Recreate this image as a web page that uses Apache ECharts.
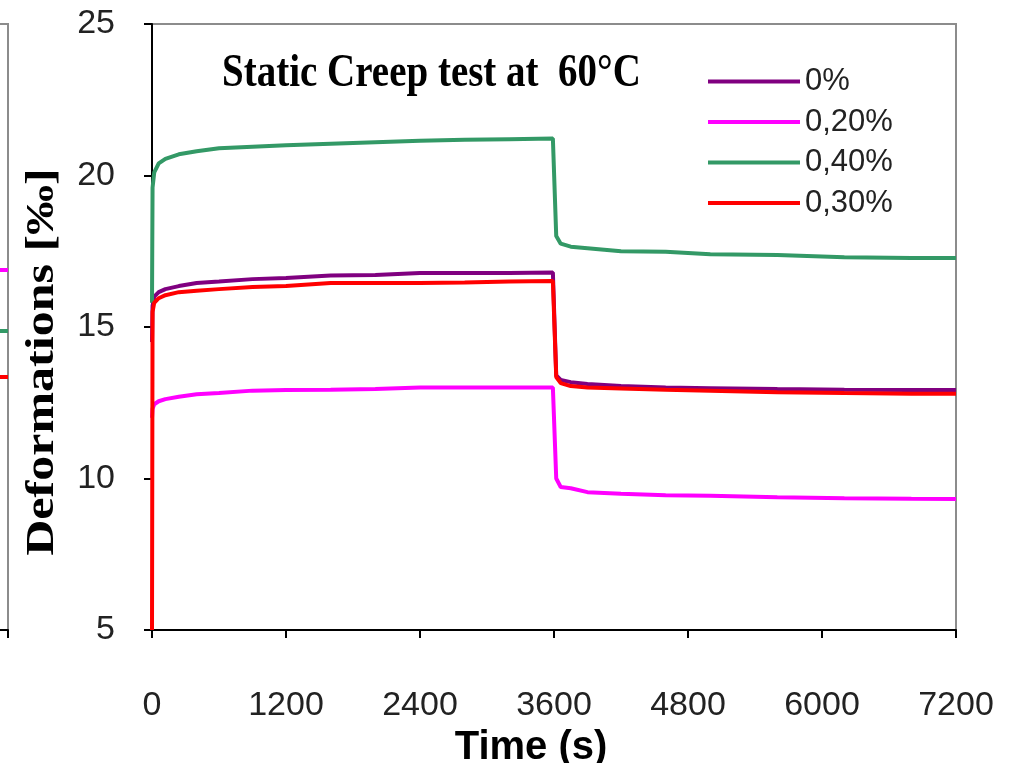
<!DOCTYPE html>
<html><head><meta charset="utf-8">
<script src="https://cdn.jsdelivr.net/npm/echarts@6/dist/echarts.min.js"></script>
<style>html,body{margin:0;padding:0;background:#fff}#c{width:1012px;height:763px}</style>
</head><body><div id="c"></div>
<script>
// ---- data ----
const seriesNames = ['0%', '0,20%', '0,40%', '0,30%'];
const seriesColors = ['#800080', '#FF00FF', '#339966', '#FF0000'];
const time = [0, 5, 20, 60, 120, 240, 400, 600, 900, 1200, 1600, 2000, 2400, 2800, 3200, 3590, 3620, 3660, 3750, 3900, 4200, 4600, 5000, 5600, 6200, 6800, 7200];
const def0   = [14.5, 15.7, 16.0, 16.15, 16.25, 16.35, 16.45, 16.5, 16.58, 16.62, 16.7, 16.72, 16.78, 16.78, 16.78, 16.8, 13.4, 13.25, 13.18, 13.12, 13.05, 13.0, 12.98, 12.95, 12.93, 12.92, 12.92];
const def020 = [12.0, 12.3, 12.45, 12.55, 12.62, 12.7, 12.78, 12.82, 12.9, 12.92, 12.93, 12.95, 13.0, 13.0, 13.0, 13.0, 10.0, 9.72, 9.68, 9.55, 9.5, 9.45, 9.43, 9.38, 9.35, 9.33, 9.32];
const def040 = [15.8, 19.6, 20.1, 20.4, 20.55, 20.7, 20.8, 20.9, 20.95, 21.0, 21.05, 21.1, 21.15, 21.18, 21.2, 21.22, 18.0, 17.75, 17.65, 17.6, 17.5, 17.48, 17.4, 17.38, 17.3, 17.28, 17.28];
const def030 = [5.0, 15.5, 15.8, 15.95, 16.05, 16.15, 16.2, 16.25, 16.32, 16.35, 16.45, 16.45, 16.45, 16.47, 16.5, 16.52, 13.35, 13.15, 13.05, 13.0, 12.97, 12.93, 12.9, 12.85, 12.82, 12.8, 12.8];
const xMin = 0, xMax = 7200, xStep = 1200;
const yMin = 5, yMax = 25, yStep = 5;
const titleText = 'Static Creep test at  60°C';
const yName = 'Deformations [‰]';
const xName = 'Time (s)';
// remnant of the neighbouring (cropped) chart on the left edge
const remnantTime = [6400, 7200];
const remnant020 = [16.88, 16.88];
const remnant040 = [14.87, 14.87];
const remnant030 = [13.35, 13.35];

const allValues = [def0, def020, def040, def030];
const pairs = (xs, ys) => xs.map((x, i) => [x, ys[i]]);

const chart = echarts.init(document.getElementById('c'), null, {renderer: 'canvas'});
const sans = '"Liberation Sans", Arial, sans-serif';
const labelFont = {fontFamily: sans, fontSize: 34, color: '#222', formatter: v => String(v)};

const mainSeries = seriesNames.map((n, i) => ({
  name: n, type: 'line', xAxisIndex: 0, yAxisIndex: 0,
  data: pairs(time, allValues[i]), showSymbol: false, symbol: 'none',
  lineStyle: {color: seriesColors[i], width: 4}, itemStyle: {color: seriesColors[i]}, z: 3 + i
}));
const remnantSeries = [[remnant020, 1], [remnant040, 2], [remnant030, 3]].map(([vals, ci]) => ({
  type: 'line', xAxisIndex: 1, yAxisIndex: 1, data: pairs(remnantTime, vals), showSymbol: false, symbol: 'none',
  lineStyle: {color: seriesColors[ci], width: 4}, silent: true
}));

chart.setOption({
  animation: false,
  backgroundColor: '#fff',
  grid: [
    {left: 152, top: 24, width: 804, height: 606, outerBoundsMode: 'none', containLabel: false,
     show: true, borderColor: '#8c8c8c', borderWidth: 2, backgroundColor: 'transparent'},
    {left: -92, top: 24, width: 100, height: 606, outerBoundsMode: 'none', containLabel: false,
     show: true, borderColor: '#8c8c8c', borderWidth: 2, backgroundColor: 'transparent'}
  ],
  legend: {
    data: seriesNames, orient: 'vertical', left: 708, top: 66, itemWidth: 92, itemHeight: 4, itemGap: 9.5,
    icon: 'rect',
    textStyle: {fontFamily: sans, fontSize: 31, color: '#222', padding: [0, 0, 0, 0]},
    padding: 0
  },
  xAxis: [
    {type: 'value', gridIndex: 0, min: xMin, max: xMax, interval: xStep,
     axisLine: {show: true, lineStyle: {color: '#000', width: 2}},
     axisTick: {show: true, inside: false, length: 8, lineStyle: {color: '#000', width: 2}},
     axisLabel: Object.assign({margin: 59}, labelFont), splitLine: {show: false},
     name: xName, nameLocation: 'middle', nameGap: 70,
     nameTextStyle: {fontFamily: sans, fontWeight: 'bold', fontSize: 40, color: '#000', padding: [0, 46, 0, 0]}},
    {type: 'value', gridIndex: 1, min: 6400, max: 7200, interval: 800,
     axisLine: {show: true, lineStyle: {color: '#000', width: 2}},
     axisTick: {show: true, length: 8, lineStyle: {color: '#000', width: 2}},
     axisLabel: {show: false}, splitLine: {show: false}}
  ],
  yAxis: [
    {type: 'value', gridIndex: 0, min: yMin, max: yMax, interval: yStep,
     axisLine: {show: true, lineStyle: {color: '#000', width: 2}},
     axisTick: {show: true, inside: false, length: 8, lineStyle: {color: '#000', width: 2}},
     axisLabel: Object.assign({margin: 37}, labelFont), splitLine: {show: false}},
    {type: 'value', gridIndex: 1, min: yMin, max: yMax, interval: yStep,
     axisLine: {show: false}, axisTick: {show: false}, axisLabel: {show: false}, splitLine: {show: false}}
  ],
  graphic: [
    {type: 'text', x: 222, y: 74, scaleY: 1.2, z: 10,
     style: {text: titleText, font: 'bold 39px "Liberation Serif", serif', fill: '#000', textAlign: 'left', textVerticalAlign: 'middle'}},
    {type: 'text', x: 42, y: 362, rotation: Math.PI / 2, scaleX: 1.22, z: 10,
     style: {text: yName, font: 'bold 41px "Liberation Serif", serif', fill: '#000', textAlign: 'center', textVerticalAlign: 'middle'}}
  ],
  series: mainSeries.concat(remnantSeries)
});
</script></body></html>
